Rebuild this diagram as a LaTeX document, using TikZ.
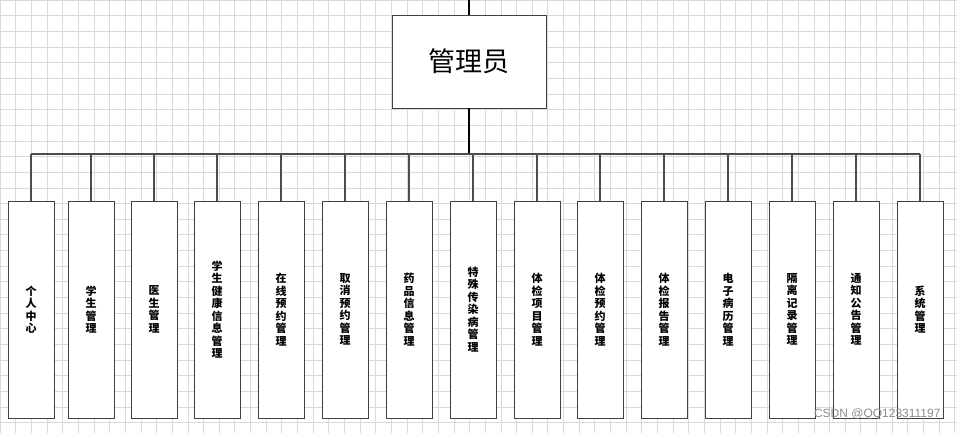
\documentclass[tikz,border=0pt]{standalone}
\usepackage{fontspec}
\setmainfont{Liberation Sans}
\newfontfamily\cjk{Noto Sans CJK SC}
\begin{document}
\begin{tikzpicture}[x=1pt,y=-1pt,
  leaf/.style={draw=black!75,fill=white,minimum width=46pt,minimum height=217pt,inner sep=0pt,font=\cjk\bfseries\fontsize{11}{12.5}\selectfont,align=center},
  root/.style={draw=black!75,fill=white,minimum width=154pt,minimum height=93pt,font=\cjk\fontsize{27}{30}\selectfont},
  conn/.style={draw=black!70,line width=1.6pt},
  gridline/.style={draw=black!15,line width=0.6pt}]
\fill[white] (0,0) rectangle (957,433);
\useasboundingbox (0,0) rectangle (957,433);
\foreach \k in {0,...,61} {\draw[gridline] (\k*15.65,0) -- (\k*15.65,433);}
\foreach \k in {0,...,28} {\draw[gridline] (0,\k*15.65) -- (957,\k*15.65);}
\node[root] (r) at (469,61.5) {管理员};
\coordinate (top) at (469,0);
\coordinate (bus) at (469,154);
\draw[conn,black] (top) -- (r.north);
\draw[conn,black] (r.south) -- (bus);
\foreach \i/\x/\t in {1/31/个\\人\\中\\心,2/91/学\\生\\管\\理,3/154/医\\生\\管\\理,4/217/学\\生\\健\\康\\信\\息\\管\\理,5/281/在\\线\\预\\约\\管\\理,6/345/取\\消\\预\\约\\管\\理,7/409/药\\品\\信\\息\\管\\理,8/473/特\\殊\\传\\染\\病\\管\\理,9/537/体\\检\\项\\目\\管\\理,10/600/体\\检\\预\\约\\管\\理,11/664/体\\检\\报\\告\\管\\理,12/728/电\\子\\病\\历\\管\\理,13/792/隔\\离\\记\\录\\管\\理,14/856/通\\知\\公\\告\\管\\理,15/920/系\\统\\管\\理}{
  \node[leaf] (n\i) at (\x,309.5) {\t};
  \coordinate (b\i) at (\x,154);
  \draw[conn] (b\i) -- (n\i.north);
}
\draw[conn] (b1) -- (b15);
\node[text=black!45,font=\fontsize{12}{14}\selectfont,anchor=south east] (wm) at (944,423) {CSDN @QQ123311197};
\end{tikzpicture}
\end{document}
